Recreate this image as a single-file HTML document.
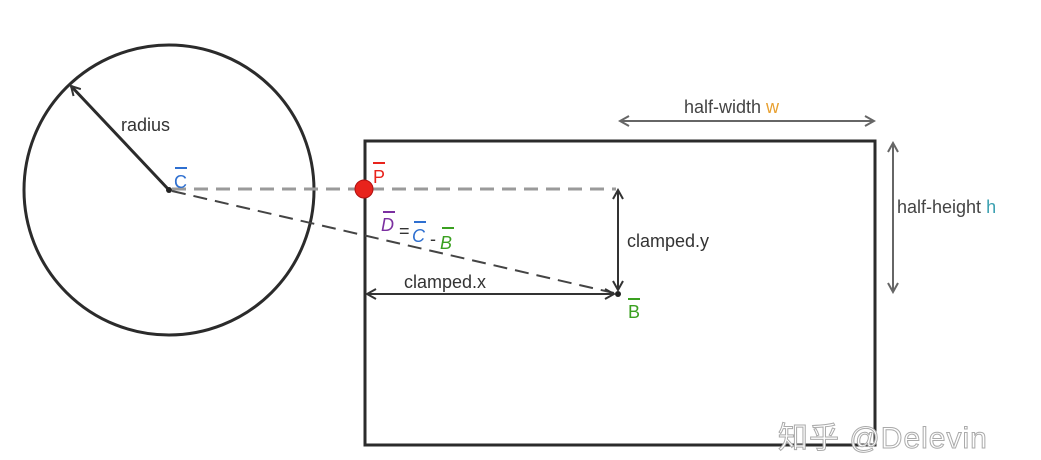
<!DOCTYPE html>
<html><head><meta charset="utf-8"><style>
html,body{margin:0;padding:0;background:#fff;}
svg{display:block;font-family:"Liberation Sans","Noto Sans CJK SC",sans-serif;}
</style></head><body>
<svg width="1041" height="460" viewBox="0 0 1041 460">
<defs>
<marker id="ahd" markerWidth="12" markerHeight="12" refX="10" refY="6" orient="auto-start-reverse" markerUnits="userSpaceOnUse"><path d="M1,1 L10,6 L1,11" fill="none" stroke="#333" stroke-width="2"/></marker>
<marker id="ahg" markerWidth="12" markerHeight="12" refX="10" refY="6" orient="auto-start-reverse" markerUnits="userSpaceOnUse"><path d="M1,1 L10,6 L1,11" fill="none" stroke="#666" stroke-width="2"/></marker>
</defs>
<circle cx="169" cy="190" r="145" fill="none" stroke="#2b2b2b" stroke-width="3"/>
<rect x="365" y="141" width="510" height="304" fill="none" stroke="#2b2b2b" stroke-width="3"/>
<line x1="169" y1="190" x2="71" y2="86" stroke="#2b2b2b" stroke-width="3" marker-end="url(#ahd)"/>
<text x="121" y="131" font-size="18" fill="#333">radius</text>
<line x1="172" y1="189" x2="616" y2="189" stroke="#9a9a9a" stroke-width="3" stroke-dasharray="14,8"/>
<line x1="172" y1="191" x2="614" y2="293" stroke="#444" stroke-width="2" stroke-dasharray="14,8"/>
<circle cx="169" cy="190" r="3" fill="#222"/>
<circle cx="364" cy="189" r="9" fill="#e8231c" stroke="#b01010" stroke-width="1"/>
<circle cx="618" cy="294" r="3" fill="#222"/>
<line x1="618" y1="290" x2="618" y2="190" stroke="#333" stroke-width="2" marker-end="url(#ahd)" marker-start="url(#ahd)"/>
<line x1="367" y1="294" x2="614" y2="294" stroke="#333" stroke-width="2" marker-end="url(#ahd)" marker-start="url(#ahd)"/>
<line x1="620" y1="121" x2="874" y2="121" stroke="#666" stroke-width="2" marker-end="url(#ahg)" marker-start="url(#ahg)"/>
<line x1="893" y1="143" x2="893" y2="292" stroke="#666" stroke-width="2" marker-end="url(#ahg)" marker-start="url(#ahg)"/>
<text x="684" y="113" font-size="18" fill="#444">half-width <tspan fill="#e8a030">w</tspan></text>
<text x="897" y="213" font-size="18" fill="#444">half-height <tspan fill="#3aa0b0">h</tspan></text>
<text x="627" y="247" font-size="18" fill="#333">clamped.y</text>
<text x="404" y="288" font-size="18" fill="#333">clamped.x</text>
<g><line x1="175" y1="168" x2="187" y2="168" stroke="#2e6fd0" stroke-width="2"/><text x="174" y="188" font-size="18" fill="#2e6fd0">C</text></g>
<g><line x1="373" y1="163" x2="385" y2="163" stroke="#e8231c" stroke-width="2"/><text x="373" y="183" font-size="18" fill="#e8231c">P</text></g>
<g><line x1="628" y1="299" x2="640" y2="299" stroke="#3aa020" stroke-width="2"/><text x="628" y="318" font-size="18" fill="#3aa020">B</text></g>
<g>
<line x1="383" y1="212" x2="395" y2="212" stroke="#7b2fa0" stroke-width="2"/>
<line x1="414" y1="222" x2="426" y2="222" stroke="#2e6fd0" stroke-width="2"/>
<line x1="442" y1="228" x2="454" y2="228" stroke="#3aa020" stroke-width="2"/>
<text x="381" y="231" font-size="18" font-style="italic" fill="#7b2fa0">D</text>
<text x="399" y="237" font-size="18" fill="#333">=</text>
<text x="412" y="242" font-size="18" font-style="italic" fill="#2e6fd0">C</text>
<text x="430" y="245" font-size="18" fill="#333">-</text>
<text x="440" y="249" font-size="18" font-style="italic" fill="#3aa020">B</text>
</g>
<text x="778" y="448" font-size="30" letter-spacing="1" fill="#fff" stroke="#aaa" stroke-width="1">知乎 @Delevin</text>
</svg>
</body></html>
